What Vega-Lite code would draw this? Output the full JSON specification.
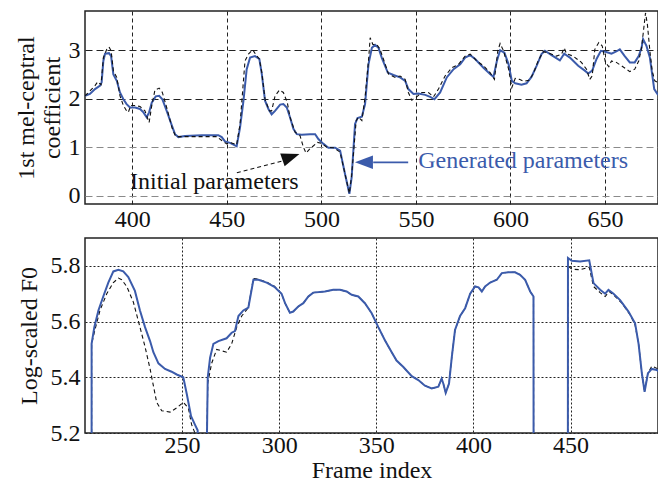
{
  "$schema": "https://vega.github.io/schema/vega-lite/v6.json",
  "padding": {"left": 13, "top": 10, "right": 0, "bottom": 0},
  "spacing": 5,
  "config": {
    "font": "Liberation Serif",
    "view": {"stroke": "#222", "strokeWidth": 1.5},
    "axis": {
      "labelFont": "Liberation Serif", "labelFontSize": 24, "labelColor": "#111",
      "titleFont": "Liberation Serif", "titleFontSize": 24, "titleFontWeight": "normal", "titleColor": "#111",
      "ticks": false, "domain": false, "labelPadding": 5, "gridWidth": 1
    }
  },
  "datasets": {
    "mcep_gen": [
      {"x":375,"y":2.06},{"x":377.6,"y":2.1},{"x":380.3,"y":2.2},{"x":383,"y":2.27},{"x":383.8,"y":2.34},{"x":384.7,"y":2.78},{"x":385.6,"y":2.93},{"x":387.7,"y":2.94},{"x":388.8,"y":2.88},{"x":390,"y":2.5},{"x":391.8,"y":2.37},{"x":393.5,"y":2.13},{"x":395.3,"y":1.99},{"x":397,"y":1.89},{"x":398.8,"y":1.82},{"x":401.5,"y":1.82},{"x":404.1,"y":1.79},{"x":405.9,"y":1.72},{"x":407.6,"y":1.62},{"x":408.9,"y":1.72},{"x":410.3,"y":1.92},{"x":412.4,"y":2.05},{"x":414.2,"y":2.06},{"x":415.9,"y":1.99},{"x":418.2,"y":1.75},{"x":420.9,"y":1.45},{"x":422.6,"y":1.27},{"x":424.4,"y":1.21},{"x":427.9,"y":1.23},{"x":436.7,"y":1.25},{"x":445.5,"y":1.25},{"x":447.3,"y":1.21},{"x":449,"y":1.12},{"x":451.7,"y":1.09},{"x":455.2,"y":1.02},{"x":457,"y":1.41},{"x":458.8,"y":1.96},{"x":460.5,"y":2.61},{"x":462.3,"y":2.85},{"x":464.9,"y":2.88},{"x":467.2,"y":2.82},{"x":468.5,"y":2.51},{"x":470.2,"y":1.96},{"x":472,"y":1.79},{"x":473.7,"y":1.68},{"x":475.5,"y":1.75},{"x":478.2,"y":1.88},{"x":479.9,"y":1.89},{"x":481.7,"y":1.82},{"x":483.4,"y":1.62},{"x":485.2,"y":1.38},{"x":487,"y":1.27},{"x":489.6,"y":1.26},{"x":494,"y":1.27},{"x":496.7,"y":1.27},{"x":498.4,"y":1.17},{"x":501.1,"y":1.07},{"x":503.7,"y":0.99},{"x":507.3,"y":0.99},{"x":509.9,"y":0.93},{"x":512.5,"y":0.45},{"x":514.8,"y":0.04},{"x":516,"y":0.38},{"x":517.8,"y":1.48},{"x":519.1,"y":1.6},{"x":521.4,"y":1.63},{"x":523.1,"y":1.89},{"x":524.9,"y":2.71},{"x":526.7,"y":3.05},{"x":528.4,"y":3.11},{"x":530.2,"y":3.05},{"x":531.9,"y":2.85},{"x":535.1,"y":2.54},{"x":538.1,"y":2.49},{"x":541.6,"y":2.44},{"x":544.3,"y":2.37},{"x":546,"y":2.2},{"x":548.7,"y":2.1},{"x":551.3,"y":2.11},{"x":554.9,"y":2.08},{"x":557.5,"y":2.04},{"x":559.8,"y":1.99},{"x":562.8,"y":2.13},{"x":566.3,"y":2.44},{"x":569.9,"y":2.61},{"x":573.4,"y":2.71},{"x":576,"y":2.85},{"x":578.7,"y":2.9},{"x":581.3,"y":2.82},{"x":585.7,"y":2.64},{"x":589.2,"y":2.51},{"x":591,"y":2.45},{"x":592.8,"y":2.78},{"x":594.5,"y":3.0},{"x":596.8,"y":2.95},{"x":599,"y":2.71},{"x":600.7,"y":2.37},{"x":602.5,"y":2.32},{"x":605.8,"y":2.29},{"x":608.5,"y":2.32},{"x":611.1,"y":2.45},{"x":613.8,"y":2.68},{"x":616.4,"y":2.92},{"x":618.2,"y":2.99},{"x":621.7,"y":2.9},{"x":626.1,"y":2.79},{"x":628.4,"y":2.93},{"x":631.4,"y":2.85},{"x":635.8,"y":2.68},{"x":639.3,"y":2.58},{"x":641.1,"y":2.52},{"x":643.2,"y":2.58},{"x":645.5,"y":2.82},{"x":647.8,"y":2.99},{"x":650.2,"y":2.97},{"x":653.4,"y":2.93},{"x":655.7,"y":2.97},{"x":657.8,"y":3.02},{"x":660.4,"y":2.88},{"x":663.1,"y":2.75},{"x":665.7,"y":2.75},{"x":667.8,"y":2.88},{"x":669.3,"y":3.05},{"x":670.1,"y":3.23},{"x":671.9,"y":3.09},{"x":673.7,"y":2.85},{"x":674.9,"y":2.51},{"x":676,"y":2.2},{"x":677.7,"y":2.1},{"x":678.5,"y":2.08}
    ],
    "mcep_init": [
      {"x":375,"y":2.06},{"x":380.3,"y":2.27},{"x":381.7,"y":2.35},{"x":383.5,"y":2.29},{"x":384.7,"y":2.85},{"x":386.5,"y":3.02},{"x":387.7,"y":3.07},{"x":388.8,"y":2.99},{"x":390,"y":2.58},{"x":391.8,"y":2.44},{"x":393.5,"y":2.06},{"x":395.3,"y":1.86},{"x":397,"y":1.75},{"x":397.9,"y":1.72},{"x":399.2,"y":1.86},{"x":401.5,"y":1.86},{"x":404.1,"y":1.84},{"x":406.7,"y":1.75},{"x":408.9,"y":1.51},{"x":410.3,"y":1.86},{"x":412,"y":2.18},{"x":414.2,"y":2.22},{"x":415.9,"y":2.13},{"x":418.2,"y":1.82},{"x":421.2,"y":1.38},{"x":423,"y":1.22},{"x":426.1,"y":1.22},{"x":444.7,"y":1.22},{"x":447.3,"y":1.14},{"x":450,"y":1.07},{"x":451.7,"y":1.1},{"x":455.2,"y":1.05},{"x":457,"y":1.48},{"x":459.6,"y":2.78},{"x":461.4,"y":2.92},{"x":463.7,"y":3.01},{"x":465.5,"y":2.9},{"x":467.2,"y":2.82},{"x":468.5,"y":2.54},{"x":470.2,"y":1.99},{"x":472.5,"y":1.75},{"x":473.7,"y":1.75},{"x":475.5,"y":2.06},{"x":477.8,"y":2.18},{"x":479.9,"y":2.13},{"x":482,"y":1.92},{"x":483.4,"y":1.62},{"x":486.1,"y":1.31},{"x":488.7,"y":1.24},{"x":490.5,"y":1.0},{"x":491.9,"y":0.88},{"x":494,"y":0.97},{"x":497.9,"y":1.1},{"x":500.2,"y":1.08},{"x":502.8,"y":1.0},{"x":506.4,"y":0.99},{"x":509.9,"y":0.9},{"x":512.5,"y":0.45},{"x":514.8,"y":0.05},{"x":516,"y":0.42},{"x":518.4,"y":1.55},{"x":519.6,"y":1.62},{"x":521.4,"y":1.55},{"x":523.1,"y":2.03},{"x":524.9,"y":2.78},{"x":525.8,"y":3.26},{"x":527.2,"y":3.12},{"x":529.3,"y":3.12},{"x":531,"y":3.02},{"x":532.8,"y":2.82},{"x":535.5,"y":2.51},{"x":539,"y":2.44},{"x":541.6,"y":2.47},{"x":544.3,"y":2.4},{"x":546,"y":2.13},{"x":547.8,"y":1.97},{"x":550.4,"y":2.04},{"x":553.1,"y":2.13},{"x":556.6,"y":2.13},{"x":559.3,"y":2.04},{"x":561.9,"y":2.2},{"x":565.4,"y":2.47},{"x":569,"y":2.64},{"x":572.5,"y":2.71},{"x":576,"y":2.88},{"x":578.7,"y":2.92},{"x":582.2,"y":2.78},{"x":585.7,"y":2.68},{"x":589.2,"y":2.54},{"x":591.5,"y":2.4},{"x":593.3,"y":2.99},{"x":594.5,"y":3.14},{"x":596.3,"y":2.99},{"x":599,"y":2.61},{"x":600.7,"y":2.23},{"x":602.5,"y":2.42},{"x":604.7,"y":2.4},{"x":606.9,"y":2.36},{"x":609.7,"y":2.38},{"x":612,"y":2.51},{"x":614.6,"y":2.78},{"x":617.3,"y":2.97},{"x":619.9,"y":2.95},{"x":624.3,"y":2.88},{"x":627,"y":2.92},{"x":628.4,"y":3.05},{"x":629.6,"y":2.93},{"x":633.1,"y":2.88},{"x":637.5,"y":2.75},{"x":640.2,"y":2.61},{"x":641.9,"y":2.4},{"x":643.2,"y":2.47},{"x":644.6,"y":3.02},{"x":646.7,"y":3.16},{"x":648.5,"y":3.09},{"x":650.2,"y":2.75},{"x":652,"y":2.66},{"x":653.4,"y":2.78},{"x":656,"y":2.75},{"x":658.7,"y":2.68},{"x":661.3,"y":2.61},{"x":663.1,"y":2.56},{"x":665.7,"y":2.61},{"x":667.8,"y":2.78},{"x":669.3,"y":3.05},{"x":670.7,"y":3.53},{"x":671.4,"y":3.77},{"x":672.4,"y":3.53},{"x":673.7,"y":2.99},{"x":674.9,"y":2.58},{"x":676.3,"y":2.37},{"x":677.7,"y":2.34},{"x":678.5,"y":2.33}
    ],
    "f0_gen": [
      {"s":1,"x":203.4,"y":5.1},{"s":1,"x":203.4,"y":5.52},{"s":1,"x":204.8,"y":5.58},{"s":1,"x":206.9,"y":5.64},{"s":1,"x":209.4,"y":5.69},{"s":1,"x":212,"y":5.74},{"s":1,"x":214.6,"y":5.78},{"s":1,"x":217.2,"y":5.786},{"s":1,"x":219.7,"y":5.78},{"s":1,"x":222.3,"y":5.76},{"s":1,"x":225.7,"y":5.71},{"s":1,"x":228.3,"y":5.64},{"s":1,"x":230.9,"y":5.58},{"s":1,"x":233.5,"y":5.53},{"s":1,"x":235.2,"y":5.49},{"s":1,"x":237.8,"y":5.45},{"s":1,"x":241.2,"y":5.43},{"s":1,"x":244.6,"y":5.42},{"s":1,"x":247.2,"y":5.41},{"s":1,"x":250.6,"y":5.4},{"s":1,"x":252.4,"y":5.34},{"s":1,"x":254.6,"y":5.26},{"s":1,"x":256.6,"y":5.23},{"s":1,"x":258,"y":5.21},{"s":1,"x":258.2,"y":5.1},
      {"s":2,"x":262.6,"y":5.1},{"s":2,"x":263.2,"y":5.4},{"s":2,"x":264.4,"y":5.47},{"s":2,"x":266.1,"y":5.52},{"s":2,"x":268.7,"y":5.53},{"s":2,"x":272.9,"y":5.54},{"s":2,"x":275.5,"y":5.56},{"s":2,"x":277.2,"y":5.566},{"s":2,"x":279,"y":5.62},{"s":2,"x":281.5,"y":5.64},{"s":2,"x":284.1,"y":5.65},{"s":2,"x":286.7,"y":5.75},{"s":2,"x":289.3,"y":5.75},{"s":2,"x":293.5,"y":5.74},{"s":2,"x":297.5,"y":5.725},{"s":2,"x":301.2,"y":5.7},{"s":2,"x":303,"y":5.666},{"s":2,"x":305.5,"y":5.632},{"s":2,"x":307.2,"y":5.636},{"s":2,"x":309.8,"y":5.654},{"s":2,"x":312.4,"y":5.666},{"s":2,"x":315,"y":5.69},{"s":2,"x":317.5,"y":5.704},{"s":2,"x":323.5,"y":5.708},{"s":2,"x":327.8,"y":5.714},{"s":2,"x":331.3,"y":5.714},{"s":2,"x":334.7,"y":5.708},{"s":2,"x":337.3,"y":5.696},{"s":2,"x":340.7,"y":5.69},{"s":2,"x":344.1,"y":5.666},{"s":2,"x":347.6,"y":5.63},{"s":2,"x":351,"y":5.58},{"s":2,"x":354.4,"y":5.533},{"s":2,"x":357.9,"y":5.49},{"s":2,"x":360.4,"y":5.46},{"s":2,"x":363.9,"y":5.437},{"s":2,"x":368.2,"y":5.404},{"s":2,"x":371.6,"y":5.39},{"s":2,"x":375,"y":5.37},{"s":2,"x":378.5,"y":5.36},{"s":2,"x":381.9,"y":5.366},{"s":2,"x":383.6,"y":5.395},{"s":2,"x":384.5,"y":5.377},{"s":2,"x":385.7,"y":5.344},{"s":2,"x":387.4,"y":5.377},{"s":2,"x":388.8,"y":5.47},{"s":2,"x":390.5,"y":5.57},{"s":2,"x":393.1,"y":5.62},{"s":2,"x":395.7,"y":5.648},{"s":2,"x":398.3,"y":5.7},{"s":2,"x":400.8,"y":5.726},{"s":2,"x":402.6,"y":5.723},{"s":2,"x":404.3,"y":5.708},{"s":2,"x":406,"y":5.726},{"s":2,"x":408.6,"y":5.74},{"s":2,"x":412,"y":5.75},{"s":2,"x":414.6,"y":5.774},{"s":2,"x":418,"y":5.777},{"s":2,"x":421.4,"y":5.777},{"s":2,"x":424,"y":5.768},{"s":2,"x":426.6,"y":5.75},{"s":2,"x":429.2,"y":5.708},{"s":2,"x":430.9,"y":5.69},{"s":2,"x":430.95,"y":5.1},
      {"s":3,"x":448.6,"y":5.1},{"s":3,"x":448.65,"y":5.828},{"s":3,"x":450.6,"y":5.818},{"s":3,"x":454.9,"y":5.816},{"s":3,"x":459.6,"y":5.82},{"s":3,"x":461.8,"y":5.738},{"s":3,"x":465.2,"y":5.714},{"s":3,"x":467.8,"y":5.7},{"s":3,"x":469.5,"y":5.714},{"s":3,"x":472.1,"y":5.7},{"s":3,"x":475.5,"y":5.677},{"s":3,"x":479.8,"y":5.636},{"s":3,"x":483.2,"y":5.594},{"s":3,"x":485,"y":5.52},{"s":3,"x":486.7,"y":5.414},{"s":3,"x":488.1,"y":5.348},{"s":3,"x":489.8,"y":5.414},{"s":3,"x":491.8,"y":5.43},{"s":3,"x":494.4,"y":5.426},{"s":3,"x":495.5,"y":5.42}
    ],
    "f0_init": [
      {"s":1,"x":203.4,"y":5.1},{"s":1,"x":203.4,"y":5.52},{"s":1,"x":205.1,"y":5.57},{"s":1,"x":207.7,"y":5.64},{"s":1,"x":211.2,"y":5.7},{"s":1,"x":214.6,"y":5.74},{"s":1,"x":217.2,"y":5.756},{"s":1,"x":218.9,"y":5.75},{"s":1,"x":221.5,"y":5.726},{"s":1,"x":224.9,"y":5.67},{"s":1,"x":228.3,"y":5.58},{"s":1,"x":230.9,"y":5.51},{"s":1,"x":233.5,"y":5.43},{"s":1,"x":235.2,"y":5.37},{"s":1,"x":236.9,"y":5.31},{"s":1,"x":239.5,"y":5.28},{"s":1,"x":243.8,"y":5.275},{"s":1,"x":247.2,"y":5.29},{"s":1,"x":250.6,"y":5.31},{"s":1,"x":253.2,"y":5.29},{"s":1,"x":254.9,"y":5.23},{"s":1,"x":256.6,"y":5.2},{"s":1,"x":257,"y":5.1},
      {"s":2,"x":262.6,"y":5.1},{"s":2,"x":263.2,"y":5.38},{"s":2,"x":265.2,"y":5.45},{"s":2,"x":267.8,"y":5.5},{"s":2,"x":272.9,"y":5.49},{"s":2,"x":275.5,"y":5.52},{"s":2,"x":278.1,"y":5.58},{"s":2,"x":280.7,"y":5.62},{"s":2,"x":284.1,"y":5.65},{"s":2,"x":286.7,"y":5.755},{"s":2,"x":289.3,"y":5.752},{"s":2,"x":293.5,"y":5.742},{"s":2,"x":297.5,"y":5.727},{"s":2,"x":301.2,"y":5.7},{"s":2,"x":303,"y":5.666},{"s":2,"x":305.5,"y":5.632},{"s":2,"x":307.2,"y":5.636},{"s":2,"x":309.8,"y":5.654},{"s":2,"x":312.4,"y":5.666},{"s":2,"x":315,"y":5.69},{"s":2,"x":317.5,"y":5.704},{"s":2,"x":323.5,"y":5.708},{"s":2,"x":327.8,"y":5.714},{"s":2,"x":331.3,"y":5.714},{"s":2,"x":334.7,"y":5.708},{"s":2,"x":337.3,"y":5.696},{"s":2,"x":340.7,"y":5.69},{"s":2,"x":344.1,"y":5.666},{"s":2,"x":347.6,"y":5.63},{"s":2,"x":351,"y":5.58},{"s":2,"x":354.4,"y":5.533},{"s":2,"x":357.9,"y":5.49},{"s":2,"x":360.4,"y":5.46},{"s":2,"x":363.9,"y":5.437},{"s":2,"x":368.2,"y":5.404},{"s":2,"x":371.6,"y":5.39},{"s":2,"x":375,"y":5.37},{"s":2,"x":378.5,"y":5.36},{"s":2,"x":381.9,"y":5.366},{"s":2,"x":383.6,"y":5.395},{"s":2,"x":384.5,"y":5.377},{"s":2,"x":385.7,"y":5.344},{"s":2,"x":387.4,"y":5.377},{"s":2,"x":388.8,"y":5.47},{"s":2,"x":390.5,"y":5.57},{"s":2,"x":393.1,"y":5.62},{"s":2,"x":395.7,"y":5.648},{"s":2,"x":398.3,"y":5.7},{"s":2,"x":400.8,"y":5.726},{"s":2,"x":402.6,"y":5.723},{"s":2,"x":404.3,"y":5.708},{"s":2,"x":406,"y":5.726},{"s":2,"x":408.6,"y":5.74},{"s":2,"x":412,"y":5.75},{"s":2,"x":414.6,"y":5.774},{"s":2,"x":418,"y":5.777},{"s":2,"x":421.4,"y":5.777},{"s":2,"x":424,"y":5.768},{"s":2,"x":426.6,"y":5.75},{"s":2,"x":429.2,"y":5.708},{"s":2,"x":430.9,"y":5.69},{"s":2,"x":430.95,"y":5.1},
      {"s":3,"x":448.6,"y":5.1},{"s":3,"x":448.65,"y":5.8},{"s":3,"x":450.6,"y":5.788},{"s":3,"x":454.9,"y":5.786},{"s":3,"x":459.6,"y":5.795},{"s":3,"x":461.8,"y":5.726},{"s":3,"x":465.2,"y":5.704},{"s":3,"x":467.8,"y":5.69},{"s":3,"x":469.9,"y":5.708},{"s":3,"x":473,"y":5.69},{"s":3,"x":476.4,"y":5.666},{"s":3,"x":480.7,"y":5.624},{"s":3,"x":483.2,"y":5.588},{"s":3,"x":485,"y":5.52},{"s":3,"x":486.7,"y":5.414},{"s":3,"x":488.1,"y":5.348},{"s":3,"x":489.8,"y":5.414},{"s":3,"x":491.8,"y":5.44},{"s":3,"x":494.4,"y":5.432},{"s":3,"x":495.5,"y":5.425}
    ]
  },
  "vconcat": [
    {
      "width": 573,
      "height": 193,
      "layer": [
        {
          "data": {"name": "mcep_gen"},
          "mark": {"type": "line", "color": "#3b5bab", "strokeWidth": 2, "clip": true},
          "encoding": {
            "x": {"field": "x", "type": "quantitative", "scale": {"domain": [375, 678], "nice": false, "zero": false},
                  "axis": {"values": [400, 450, 500, 550, 600, 650], "title": null, "grid": true, "gridDash": [4, 3], "gridColor": "#222", "labelPadding": 3}},
            "y": {"field": "y", "type": "quantitative", "scale": {"domain": [-0.17, 3.81], "nice": false, "zero": false},
                  "axis": {"values": [0, 0.5, 1, 1.5, 2, 2.5, 3, 3.5], "labelExpr": "datum.value % 1 == 0 ? '' + datum.value : ''",
                           "title": ["1st mel-ceptral", "coefficient"], "titleLineHeight": 26, "titlePadding": 4, "grid": true, "gridDash": [7, 4],
                           "gridColor": {"condition": {"test": "datum.value < 1.75", "value": "#8a8a8a"}, "value": "#222"}}}
          }
        },
        {
          "data": {"name": "mcep_init"},
          "mark": {"type": "line", "color": "#111", "strokeWidth": 1.1, "strokeDash": [4, 3], "clip": true},
          "encoding": {
            "x": {"field": "x", "type": "quantitative"},
            "y": {"field": "y", "type": "quantitative"}
          }
        },
        {
          "data": {"values": [{"x": 545.9, "y": 0.69, "x2": 527.4, "y2": 0.69}]},
          "mark": {"type": "rule", "color": "#3b5bab", "strokeWidth": 1.8},
          "encoding": {
            "x": {"field": "x", "type": "quantitative"}, "x2": {"field": "x2"},
            "y": {"field": "y", "type": "quantitative"}, "y2": {"field": "y2"}
          }
        },
        {
          "data": {"values": [{"x": 522.5, "y": 0.69}]},
          "mark": {"type": "point", "shape": "M 1 0 L -1 -0.75 L -1 0.75 Z", "filled": true, "color": "#3b5bab", "opacity": 1, "size": 324, "angle": 180},
          "encoding": {
            "x": {"field": "x", "type": "quantitative"},
            "y": {"field": "y", "type": "quantitative"}
          }
        },
        {
          "data": {"values": [{"x": 455.3, "y": 0.475, "x2": 479.6, "y2": 0.72}]},
          "mark": {"type": "rule", "color": "#111", "strokeWidth": 1.2, "strokeDash": [4, 3]},
          "encoding": {
            "x": {"field": "x", "type": "quantitative"}, "x2": {"field": "x2"},
            "y": {"field": "y", "type": "quantitative"}, "y2": {"field": "y2"}
          }
        },
        {
          "data": {"values": [{"x": 483.9, "y": 0.8}]},
          "mark": {"type": "point", "shape": "M 1 0 L -1 -0.75 L -1 0.75 Z", "filled": true, "color": "#111", "opacity": 1, "size": 324, "angle": -19},
          "encoding": {
            "x": {"field": "x", "type": "quantitative"},
            "y": {"field": "y", "type": "quantitative"}
          }
        },
        {
          "data": {"values": [{"x": 551.2, "y": 0.58, "label": "Generated parameters"}]},
          "mark": {"type": "text", "align": "left", "baseline": "alphabetic", "font": "Liberation Serif", "fontSize": 24, "color": "#3b5bab"},
          "encoding": {
            "x": {"field": "x", "type": "quantitative"},
            "y": {"field": "y", "type": "quantitative"},
            "text": {"field": "label"}
          }
        },
        {
          "data": {"values": [{"x": 398.8, "y": 0.14, "label": "Initial parameters"}]},
          "mark": {"type": "text", "align": "left", "baseline": "alphabetic", "font": "Liberation Serif", "fontSize": 24, "color": "#111"},
          "encoding": {
            "x": {"field": "x", "type": "quantitative"},
            "y": {"field": "y", "type": "quantitative"},
            "text": {"field": "label"}
          }
        }
      ]
    },
    {
      "width": 573,
      "height": 195,
      "layer": [
        {
          "data": {"name": "f0_init"},
          "mark": {"type": "line", "color": "#111", "strokeWidth": 1.1, "strokeDash": [4, 3], "clip": true},
          "encoding": {
            "x": {"field": "x", "type": "quantitative", "scale": {"domain": [200, 495], "nice": false, "zero": false},
                  "axis": {"values": [250, 300, 350, 400, 450], "title": "Frame index", "titlePadding": 1, "labelPadding": 0, "grid": true, "gridDash": [2, 2], "gridColor": "#222"}},
            "y": {"field": "y", "type": "quantitative", "scale": {"domain": [5.2, 5.9], "nice": false, "zero": false},
                  "axis": {"values": [5.2, 5.3, 5.4, 5.5, 5.6, 5.7, 5.8, 5.9],
                           "labelExpr": "(round(datum.value * 10) % 2 == 0 && datum.value < 5.85) ? format(datum.value, '.1f') : ''",
                           "title": "Log-scaled F0", "titlePadding": 9, "grid": true, "gridDash": [2, 2], "gridColor": "#222"}},
            "detail": {"field": "s", "type": "nominal"}
          }
        },
        {
          "data": {"name": "f0_gen"},
          "mark": {"type": "line", "color": "#3b5bab", "strokeWidth": 2, "clip": true},
          "encoding": {
            "x": {"field": "x", "type": "quantitative"},
            "y": {"field": "y", "type": "quantitative"},
            "detail": {"field": "s", "type": "nominal"}
          }
        }
      ]
    }
  ]
}
